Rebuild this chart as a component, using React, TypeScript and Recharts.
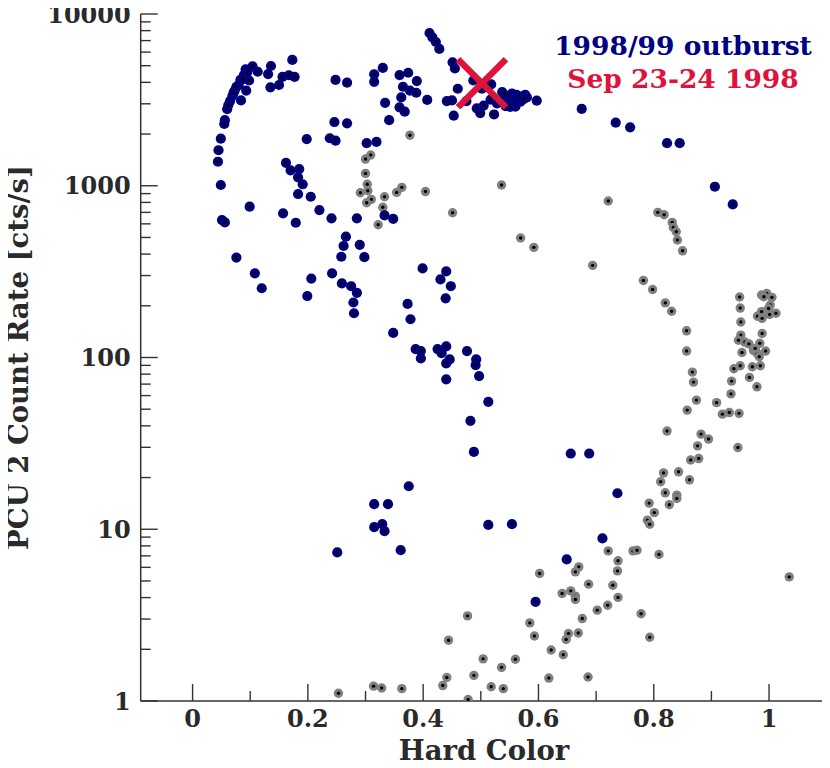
import React from 'react';
import { ScatterChart, Scatter, XAxis, YAxis } from 'recharts';

// [hard color, PCU2 count rate]
const outburst9899: [number, number][] = [
  [0.173, 5400], [0.136, 4980], [0.131, 4470], [0.135, 3740], [0.150, 3860], [0.156, 4300], [0.167, 4400], [0.177, 4300],
  [0.104, 4960], [0.113, 4610], [0.092, 4760], [0.089, 4410], [0.098, 4100], [0.083, 4130], [0.080, 3860], [0.093, 3580],
  [0.073, 3580], [0.069, 3330], [0.084, 3140], [0.065, 3110], [0.060, 2790], [0.056, 2410], [0.055, 2290], [0.049, 1880],
  [0.045, 1610], [0.044, 1380], [0.049, 1010], [0.051, 631], [0.056, 612], [0.099, 755], [0.076, 382], [0.062, 2950],
  [0.071, 3470], [0.076, 3760], [0.087, 4180], [0.095, 4590],
  [0.248, 4130], [0.268, 3980], [0.315, 4460], [0.315, 4030], [0.330, 4850], [0.246, 2350], [0.268, 2310], [0.198, 1870],
  [0.238, 1890], [0.248, 1830], [0.302, 1770], [0.319, 1800], [0.334, 3040], [0.359, 4410], [0.374, 4550], [0.389, 4070],
  [0.365, 3770], [0.377, 3580], [0.388, 3480], [0.362, 3270], [0.407, 3160], [0.359, 2860], [0.368, 2700], [0.341, 2410],
  [0.411, 7750], [0.416, 7300], [0.422, 6870], [0.428, 6260], [0.451, 5230], [0.455, 4820], [0.460, 3670], [0.441, 3110],
  [0.450, 3140], [0.475, 3110], [0.453, 2560], [0.487, 4100], [0.502, 3670], [0.518, 3890], [0.493, 2820], [0.499, 2650],
  [0.505, 2930], [0.517, 3170], [0.523, 2600], [0.528, 3020], [0.537, 3510], [0.543, 3160], [0.549, 3090], [0.540, 3410],
  [0.554, 3440], [0.562, 3380], [0.567, 3300], [0.577, 3380], [0.580, 3270], [0.558, 3020], [0.569, 3090], [0.574, 3190],
  [0.560, 2890], [0.551, 2880], [0.543, 2910], [0.534, 3090], [0.597, 3130], [0.675, 2800], [0.734, 2330], [0.759, 2190],
  [0.823, 1770], [0.845, 1770], [0.906, 987], [0.937, 779],
  [0.162, 1360], [0.170, 1230], [0.185, 1250], [0.183, 1120], [0.191, 1020], [0.183, 895], [0.205, 863], [0.157, 691],
  [0.179, 609], [0.220, 722], [0.241, 646], [0.285, 646], [0.333, 672], [0.348, 642], [0.108, 309], [0.120, 253],
  [0.266, 505], [0.262, 446], [0.290, 453], [0.258, 386], [0.298, 384], [0.242, 309], [0.206, 288], [0.199, 228],
  [0.259, 270], [0.275, 260], [0.285, 238], [0.279, 209], [0.280, 181],
  [0.399, 330], [0.440, 317], [0.430, 285], [0.448, 260], [0.439, 221], [0.373, 205], [0.378, 167], [0.348, 139],
  [0.387, 112], [0.396, 109], [0.425, 112], [0.440, 116], [0.432, 106], [0.446, 97.5], [0.440, 92.4], [0.396, 98.8],
  [0.440, 74.6], [0.476, 109], [0.492, 97.5], [0.491, 90.3], [0.497, 78.0], [0.513, 55.2], [0.482, 42.8], [0.488, 28.2],
  [0.656, 27.6], [0.688, 27.6], [0.375, 17.8], [0.737, 16.2], [0.513, 10.6], [0.554, 10.7], [0.315, 14.0], [0.339, 14.0],
  [0.315, 10.3], [0.329, 10.7], [0.333, 9.75], [0.251, 7.33], [0.361, 7.55], [0.711, 8.84], [0.649, 6.67], [0.595, 3.78],
];

const otherObs: [number, number][] = [
  [0.377, 1970], [0.309, 1510], [0.300, 1430], [0.300, 1180], [0.303, 1020], [0.291, 910], [0.304, 935], [0.310, 833],
  [0.302, 796], [0.333, 863], [0.330, 749], [0.354, 915], [0.363, 979], [0.404, 925], [0.451, 696], [0.322, 593],
  [0.536, 1010], [0.721, 815], [0.569, 496], [0.592, 438], [0.694, 344], [0.807, 700], [0.818, 678], [0.832, 612],
  [0.834, 572], [0.839, 540], [0.841, 483], [0.850, 418], [0.782, 281], [0.798, 249], [0.820, 208], [0.831, 186],
  [0.857, 143], [0.857, 109], [0.867, 82.2], [0.869, 71.9], [0.874, 56.5], [0.858, 49.4], [0.909, 54.6], [0.919, 46.8],
  [0.931, 47.8], [0.948, 47.3], [0.934, 61.4], [0.935, 72.9], [0.939, 86.0], [0.950, 89.5], [0.971, 88.3], [0.985, 89.5],
  [0.966, 76.6], [0.979, 67.5], [0.949, 225], [0.950, 194], [0.951, 161], [0.951, 135], [0.947, 126], [0.958, 123],
  [0.965, 120], [0.953, 107], [0.973, 110], [0.979, 106], [0.984, 121], [0.988, 138], [0.994, 109], [0.976, 113],
  [0.983, 101], [0.980, 174], [0.988, 169], [0.990, 184], [1.001, 178], [1.012, 181], [1.002, 202], [0.987, 231],
  [0.996, 236], [1.005, 224], [0.991, 226], [0.999, 193], [0.987, 185], [0.946, 29.9], [0.823, 37.3], [0.882, 35.8],
  [0.895, 33.5], [0.876, 30.6], [0.864, 25.3], [0.878, 25.8], [0.862, 19.4], [0.817, 21.3], [0.843, 21.6], [0.812, 18.9],
  [0.820, 16.3], [0.840, 15.8], [0.840, 15.1], [0.827, 13.9], [0.792, 14.2], [0.801, 12.5], [0.789, 11.3], [0.793, 10.7],
  [0.764, 7.48], [0.771, 7.55], [0.809, 7.13], [0.721, 7.48], [0.738, 6.55], [0.737, 5.72], [0.670, 6.04], [0.664, 5.65],
  [0.602, 5.53], [0.687, 4.79], [0.729, 4.72], [0.641, 4.23], [0.656, 4.38], [0.664, 4.08], [0.664, 3.90], [0.738, 4.01],
  [0.720, 3.61], [0.702, 3.38], [0.778, 3.22], [0.793, 2.35], [0.676, 3.02], [0.585, 2.85], [0.593, 2.39], [0.652, 2.47],
  [0.648, 2.28], [0.669, 2.49], [0.622, 1.98], [0.643, 1.86], [0.686, 1.38], [0.618, 1.36], [0.560, 1.75], [0.536, 1.57],
  [0.504, 1.76], [0.488, 1.41], [0.518, 1.21], [0.539, 1.18], [0.477, 3.13], [0.444, 2.26], [0.441, 1.37], [0.434, 1.23],
  [0.478, 1.02], [0.363, 1.18], [1.035, 5.28], [0.314, 1.22], [0.328, 1.19], [0.253, 1.11],
];

const sep1998: [number, number][] = [[0.502, 3950]];

const xTicks = [0, 0.1, 0.2, 0.3, 0.4, 0.5, 0.6, 0.7, 0.8, 0.9, 1.0];
const yTicks = [
  1, 2, 3, 4, 5, 6, 7, 8, 9,
  10, 20, 30, 40, 50, 60, 70, 80, 90,
  100, 200, 300, 400, 500, 600, 700, 800, 900,
  1000, 2000, 3000, 4000, 5000, 6000, 7000, 8000, 9000,
  10000,
];

const toPoints = (arr: [number, number][]) => arr.map(([x, y]) => ({ x, y }));

const AX = '#333333';
const TXT = '#2a2a2a';
const FONT = '"DejaVu Serif", serif';
const MAJ = 17;
const MIN = 10;

const isMajorX = (v: number) => Math.round(v * 10) % 2 === 0;
const isMajorY = (v: number) => Math.abs(Math.log10(v) - Math.round(Math.log10(v))) < 1e-6;
const fmtX = (v: number) => (v === 0 ? '0' : v === 1 ? '1' : v.toFixed(1));

const BottomTick = (p: any) => {
  const { x, y, payload } = p;
  const v = payload.value;
  const major = isMajorX(v);
  return (
    <g>
      <line x1={x} x2={x} y1={y} y2={y - (major ? MAJ : MIN)} stroke={AX} strokeWidth={1.4} />
      {major && (
        <text x={x} y={y + 26} textAnchor="middle" fill={TXT} fontFamily={FONT} fontWeight="bold" fontSize={24}>
          {fmtX(v)}
        </text>
      )}
    </g>
  );
};

const TopTick = (p: any) => {
  const { x, y, payload } = p;
  const major = isMajorX(payload.value);
  return <line x1={x} x2={x} y1={y} y2={y + (major ? MAJ : MIN)} stroke={AX} strokeWidth={1.4} />;
};

const LeftTick = (p: any) => {
  const { x, y, payload } = p;
  const v = payload.value;
  const major = isMajorY(v);
  return (
    <g>
      <line x1={x} x2={x + (major ? MAJ : MIN)} y1={y} y2={y} stroke={AX} strokeWidth={1.4} />
      {major && (
        <text x={x - 10} y={y} dy="0.36em" textAnchor="end" fill={TXT} fontFamily={FONT} fontWeight="bold" fontSize={24}>
          {String(v)}
        </text>
      )}
    </g>
  );
};

const RightTick = (p: any) => {
  const { x, y, payload } = p;
  const major = isMajorY(payload.value);
  return <line x1={x} x2={x - (major ? MAJ : MIN)} y1={y} y2={y} stroke={AX} strokeWidth={1.4} />;
};

const BlueDot = (p: any) => {
  const { cx, cy } = p;
  if (cx == null || cy == null) return null;
  return (
    <g>
      <circle cx={cx} cy={cy} r={5.1} fill="#000080" />
      <circle cx={cx} cy={cy} r={1.7} fill="#000000" />
    </g>
  );
};

const GrayDot = (p: any) => {
  const { cx, cy } = p;
  if (cx == null || cy == null) return null;
  return (
    <g>
      <circle cx={cx} cy={cy} r={4.7} fill="#808080" />
      <circle cx={cx} cy={cy} r={1.7} fill="#000000" />
    </g>
  );
};

const RedCross = (p: any) => {
  const { cx, cy } = p;
  if (cx == null || cy == null) return null;
  const s = 24;
  return (
    <g stroke="#dc143c" strokeWidth={6.5}>
      <line x1={cx - s} y1={cy - s} x2={cx + s} y2={cy + s} />
      <line x1={cx - s} y1={cy + s} x2={cx + s} y2={cy - s} />
    </g>
  );
};

const W = 830;
const H = 768;

export default function App() {
  return (
    <div style={{ position: 'relative', width: W, height: H, margin: '-8px 0 0 -8px' }}>
      <ScatterChart width={W} height={H} margin={{ top: 14, right: 3.3, left: 0, bottom: 0 }}>
        <XAxis
          xAxisId="b"
          type="number"
          dataKey="x"
          domain={[-0.09, 1.1]}
          allowDataOverflow
          ticks={xTicks}
          interval={0}
          tickSize={0}
          tickMargin={0}
          tickLine={false}
          height={67}
          axisLine={{ stroke: AX, strokeWidth: 1.5 }}
          tick={<BottomTick />}
        />
        <XAxis
          xAxisId="t"
          orientation="top"
          type="number"
          dataKey="x"
          domain={[-0.09, 1.1]}
          allowDataOverflow
          ticks={xTicks}
          interval={0}
          tickSize={0}
          tickMargin={0}
          tickLine={false}
          height={0}
          axisLine={{ stroke: AX, strokeWidth: 1.5 }}
          tick={<TopTick />}
        />
        <YAxis
          yAxisId="l"
          type="number"
          dataKey="y"
          scale="log"
          domain={[1, 10000]}
          allowDataOverflow
          ticks={yTicks}
          interval={0}
          tickSize={0}
          tickMargin={0}
          tickLine={false}
          width={140.7}
          axisLine={{ stroke: AX, strokeWidth: 1.5 }}
          tick={<LeftTick />}
        />
        <YAxis
          yAxisId="r"
          orientation="right"
          type="number"
          dataKey="y"
          scale="log"
          domain={[1, 10000]}
          allowDataOverflow
          ticks={yTicks}
          interval={0}
          tickSize={0}
          tickMargin={0}
          tickLine={false}
          width={0}
          axisLine={{ stroke: AX, strokeWidth: 1.5 }}
          tick={<RightTick />}
        />
        <Scatter xAxisId="b" yAxisId="l" data={toPoints(otherObs)} shape={<GrayDot />} isAnimationActive={false} />
        <Scatter xAxisId="b" yAxisId="l" data={toPoints(outburst9899)} shape={<BlueDot />} isAnimationActive={false} />
        <Scatter xAxisId="b" yAxisId="l" data={toPoints(sep1998)} shape={<RedCross />} isAnimationActive={false} />
      </ScatterChart>
      <svg width={W} height={H} style={{ position: 'absolute', left: 0, top: 0, pointerEvents: 'none' }}>
        <text x={683} y={55} textAnchor="middle" fill="#000080" fontFamily={FONT} fontWeight="bold" fontSize={26.5}>
          1998/99 outburst
        </text>
        <text x={683} y={88} textAnchor="middle" fill="#dc143c" fontFamily={FONT} fontWeight="bold" fontSize={26.5}>
          Sep 23-24 1998
        </text>
        <text
          x={18}
          y={357.5}
          transform="rotate(-90 18 357.5)"
          textAnchor="middle"
          dy="0.36em"
          fill={TXT}
          fontFamily={FONT}
          fontWeight="bold"
          fontSize={27.5}
        >
          PCU 2 Count Rate [cts/s]
        </text>
        <text x={484} y={760} textAnchor="middle" fill={TXT} fontFamily={FONT} fontWeight="bold" fontSize={27.5}>
          Hard Color
        </text>
      </svg>
    </div>
  );
}
